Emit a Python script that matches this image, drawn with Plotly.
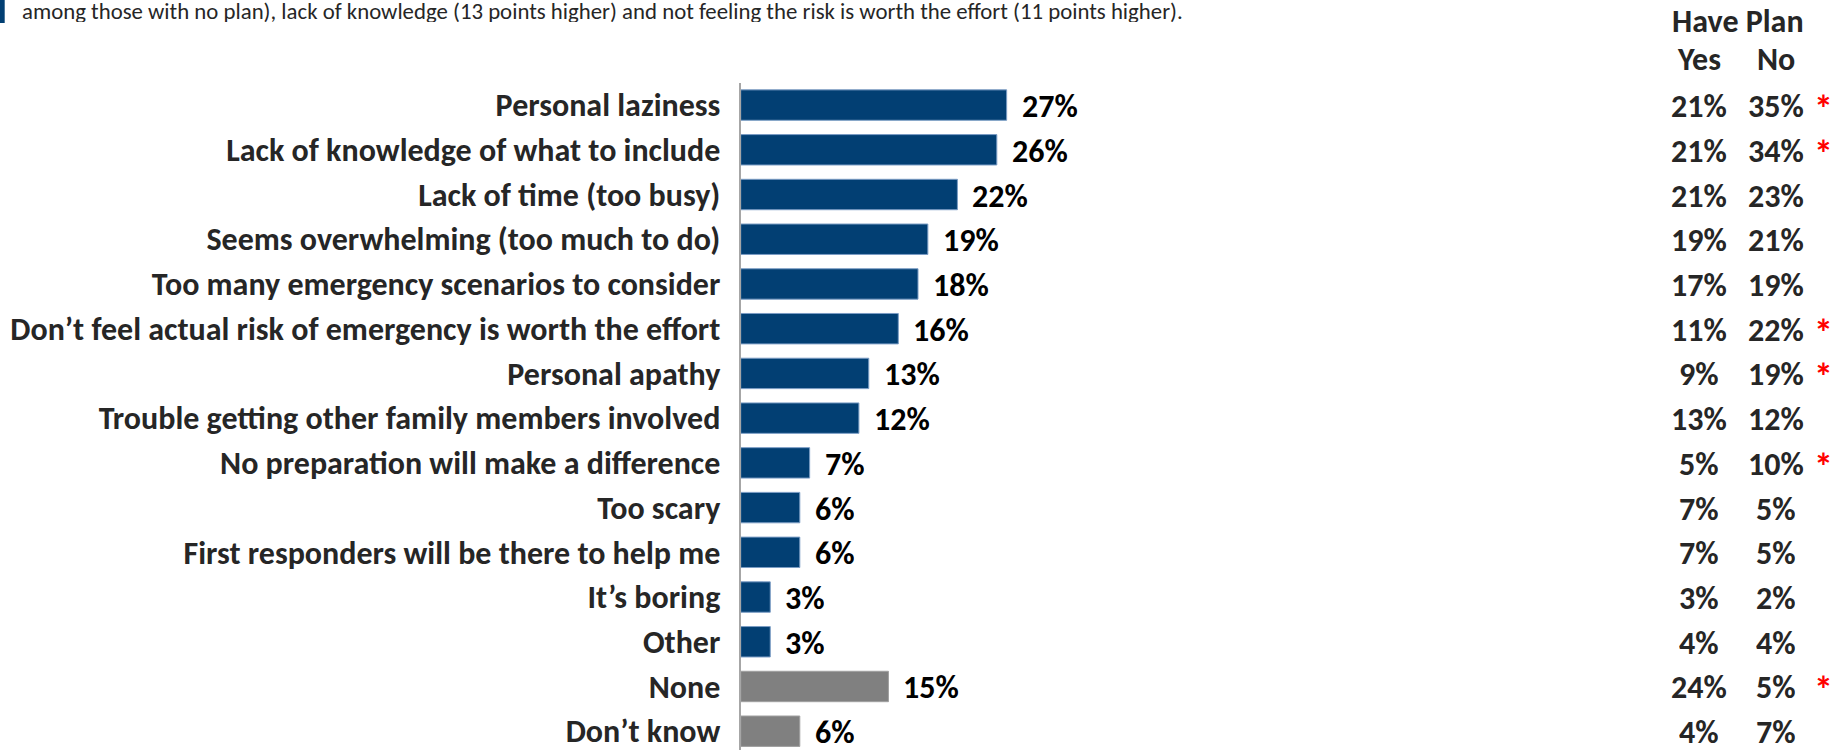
import plotly.graph_objects as go

categories = [
    "Personal laziness",
    "Lack of knowledge of what to include",
    "Lack of time (too busy)",
    "Seems overwhelming (too much to do)",
    "Too many emergency scenarios to consider",
    "Don’t feel actual risk of emergency is worth the effort",
    "Personal apathy",
    "Trouble getting other family members involved",
    "No preparation will make a difference",
    "Too scary",
    "First responders will be there to help me",
    "It’s boring",
    "Other",
    "None",
    "Don’t know",
]
values = [27, 26, 22, 19, 18, 16, 13, 12, 7, 6, 6, 3, 3, 15, 6]
is_grey = [False] * 13 + [True, True]
plan_yes = [21, 21, 21, 19, 17, 11, 9, 13, 5, 7, 7, 3, 4, 24, 4]
plan_no = [35, 34, 23, 21, 19, 22, 19, 12, 10, 5, 5, 2, 4, 5, 7]
significant = [True, True, False, False, False, True, True, False, True,
               False, False, False, False, True, False]
header_top = "Have Plan"
header_cols = ["Yes", "No"]
intro_text = ("among those with no plan), lack of knowledge (13 points higher) and not "
              "feeling the risk is worth the effort (11 points higher).")

W, H = 1833, 750
FONT = "Carlito, Calibri, 'Open Sans', sans-serif"
NAVY = "#023f73"
GREY = "#808080"
TXT = "#262626"
FS = 32
ROW_H = 34

def px_x(p):
    return p / W

def px_y(p):
    return 1 - p / H

colors = [GREY if g else NAVY for g in is_grey]
line_colors = ["#a0a0a0" if g else "#7a9cc4" for g in is_grey]

fig = go.Figure()
fig.add_trace(go.Bar(
    x=values, y=categories, orientation="h",
    marker=dict(color=colors, line=dict(color=line_colors, width=1)),
    hoverinfo="skip",
))

annotations = []
for c, v in zip(categories, values):
    annotations.append(dict(
        x=v, y=c, xref="x", yref="y", text=f"<b>{v}%</b>", showarrow=False,
        xanchor="left", yanchor="middle", xshift=13, yshift=-1, height=ROW_H,
        font=dict(family=FONT, size=FS, color="#000000"),
    ))

col_x = [1699, 1776]
for c, y_, n_, s in zip(categories, plan_yes, plan_no, significant):
    for cx, val in zip(col_x, [y_, n_]):
        annotations.append(dict(
            x=px_x(cx), y=c, xref="paper", yref="y", text=f"<b>{val}%</b>",
            showarrow=False, xanchor="center", yanchor="middle", yshift=-1,
            height=ROW_H,
            font=dict(family=FONT, size=FS, color=TXT),
        ))
    if s:
        annotations.append(dict(
            x=px_x(1823), y=c, xref="paper", yref="y", text="<b>*</b>",
            showarrow=False, xanchor="center", yanchor="middle", yshift=-4,
            font=dict(family=FONT, size=38, color="#ff0000"),
        ))

annotations.append(dict(
    x=px_x(1738), y=px_y(21), xref="paper", yref="paper", text=f"<b>{header_top}</b>",
    showarrow=False, xanchor="center", yanchor="middle",
    font=dict(family=FONT, size=FS, color=TXT),
))
for cx, t in zip(col_x, header_cols):
    annotations.append(dict(
        x=px_x(cx), y=px_y(60), xref="paper", yref="paper", text=f"<b>{t}</b>",
        showarrow=False, xanchor="center", yanchor="middle",
        font=dict(family=FONT, size=FS, color=TXT),
    ))

annotations.append(dict(
    x=px_x(20), y=px_y(11), xref="paper", yref="paper", text=intro_text,
    showarrow=False, xanchor="left", yanchor="middle", height=22,
    font=dict(family=FONT, size=22.8, color=TXT),
))

fig.update_layout(
    width=W, height=H,
    margin=dict(l=0, r=0, t=0, b=0),
    paper_bgcolor="white", plot_bgcolor="white",
    showlegend=False,
    bargap=0.32,
    annotations=annotations,
    shapes=[dict(type="rect", xref="paper", yref="paper",
                 x0=0, x1=px_x(4.7), y0=px_y(23), y1=1,
                 fillcolor=NAVY, line=dict(width=0))],
    xaxis=dict(domain=[px_x(740.7), px_x(1331.7)], range=[0, 60],
               showgrid=False, zeroline=False, showline=False,
               showticklabels=False, ticks=""),
    yaxis=dict(domain=[0, px_y(82.7)], type="category",
               categoryorder="array", categoryarray=categories,
               range=[14.42, -0.5],
               showgrid=False, zeroline=False,
               showline=True, linecolor="#a6a6a6", linewidth=2,
               ticks="", ticklabelstandoff=12,
               tickfont=dict(family=FONT, size=FS, color=TXT),
               tickmode="array", tickvals=categories,
               ticktext=[f"<b>{c}</b>" for c in categories]),
)

fig.write_html("out.html", config={"displayModeBar": False},
               post_script="document.body.style.margin='0';document.body.style.overflow='hidden';")
